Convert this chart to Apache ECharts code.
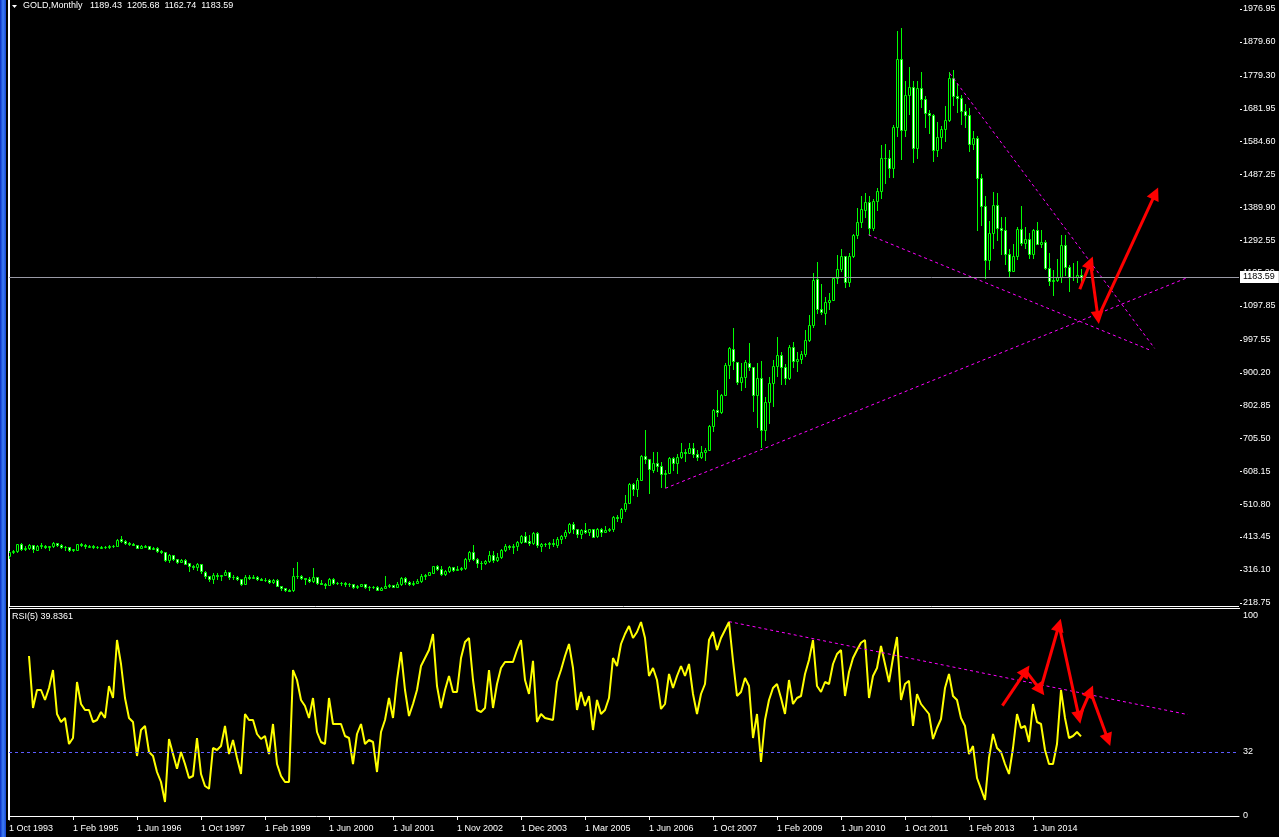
<!DOCTYPE html>
<html>
<head>
<meta charset="utf-8">
<title>GOLD,Monthly</title>
<script src="https://cdn.jsdelivr.net/npm/echarts@6.0.0/dist/echarts.min.js"></script>
<style>
  html, body { margin: 0; padding: 0; background: #000; }
  #chart { width: 1279px; height: 837px; }
</style>
</head>
<body>
<div id="chart"></div>
<script>
// monthly bars, index 0 = Oct 1993, last = Jun 2015 (broker history has a few extra bars)
var opens = [
  356, 369, 371, 392, 378, 382, 390, 376, 388, 388,
  384, 386, 395, 389, 383, 383, 375, 376, 392, 390,
  385, 387, 383, 382, 384, 383, 388, 387, 406, 401,
  396, 392, 391, 382, 385, 386, 379, 380, 371, 369,
  345, 359, 348, 340, 346, 335, 326, 325, 332, 311,
  297, 290, 301, 297, 301, 310, 294, 296, 289, 273,
  294, 292, 295, 288, 287, 287, 280, 287, 269, 261,
  256, 255, 299, 299, 291, 290, 283, 294, 277, 275,
  272, 288, 277, 277, 277, 274, 273, 264, 269, 273,
  266, 266, 265, 257, 263, 268, 271, 266, 273, 293,
  279, 275, 277, 282, 297, 301, 308, 327, 318, 305,
  313, 324, 317, 319, 322, 347, 368, 348, 335, 337,
  342, 361, 346, 355, 376, 388, 384, 386, 398, 416,
  400, 396, 424, 388, 393, 394, 396, 391, 407, 416,
  429, 452, 436, 422, 435, 428, 436, 415, 437, 429,
  433, 437, 473, 471, 496, 513, 569, 556, 582, 654,
  643, 613, 633, 624, 599, 604, 647, 632, 650, 664,
  662, 677, 659, 650, 665, 672, 743, 789, 783, 834,
  923, 971, 933, 871, 886, 930, 918, 833, 884, 730,
  814, 870, 919, 952, 916, 883, 975, 934, 939, 955,
  996, 1040, 1176, 1087, 1078, 1108, 1115, 1179, 1207, 1244,
  1169, 1246, 1307, 1347, 1383, 1405, 1327, 1409, 1439, 1535,
  1536, 1505, 1628, 1828, 1620, 1722, 1746, 1565, 1744, 1711,
  1668, 1664, 1558, 1598, 1622, 1648, 1773, 1719, 1712, 1675,
  1664, 1578, 1595, 1476, 1393, 1234, 1313, 1396, 1327, 1323,
  1250, 1202, 1244, 1326, 1284, 1296, 1250, 1322, 1282, 1287,
  1210, 1171, 1175, 1183, 1279, 1212, 1183, 1184, 1189.43
];
var highs = [
  372, 375, 392, 395, 388, 392, 391, 389, 396, 389,
  388, 398, 397, 392, 386, 383, 379, 394, 396, 392,
  391, 390, 386, 387, 386, 389, 390, 406, 416, 403,
  398, 395, 391, 390, 390, 387, 384, 383, 374, 369,
  364, 360, 349, 349, 348, 335, 330, 336, 333, 313,
  298, 306, 306, 302, 316, 311, 301, 298, 290, 300,
  301, 300, 297, 293, 292, 289, 290, 289, 269, 262,
  260, 322, 339, 302, 292, 294, 322, 296, 287, 278,
  292, 291, 281, 281, 280, 276, 275, 270, 275, 273,
  269, 268, 268, 264, 298, 274, 272, 280, 294, 294,
  283, 283, 288, 303, 304, 310, 328, 330, 327, 315,
  326, 325, 326, 324, 350, 373, 389, 352, 341, 345,
  372, 371, 366, 377, 393, 390, 392, 400, 418, 428,
  420, 428, 428, 396, 396, 398, 408, 412, 420, 433,
  456, 457, 438, 438, 456, 438, 436, 441, 440, 447,
  441, 476, 477, 498, 538, 573, 573, 587, 655, 730,
  643, 664, 664, 636, 612, 650, 649, 659, 691, 673,
  692, 691, 672, 683, 676, 745, 793, 848, 838, 928,
  975, 1033, 933, 930, 936, 989, 918, 930, 935, 828,
  887, 937, 1006, 960, 925, 981, 990, 960, 964, 1025,
  1070, 1195, 1227, 1162, 1125, 1137, 1180, 1249, 1265, 1245,
  1254, 1310, 1388, 1424, 1432, 1424, 1413, 1448, 1575, 1577,
  1560, 1632, 1912, 1920, 1764, 1804, 1763, 1764, 1791, 1720,
  1677, 1667, 1641, 1631, 1691, 1790, 1796, 1755, 1723, 1696,
  1684, 1617, 1600, 1488, 1424, 1348, 1434, 1433, 1362, 1361,
  1267, 1280, 1332, 1392, 1331, 1315, 1325, 1345, 1322, 1292,
  1255, 1205, 1238, 1307, 1307, 1220, 1224, 1232, 1205.68
];
var lows = [
  352, 365, 368, 375, 374, 378, 370, 374, 380, 380,
  376, 385, 387, 380, 374, 371, 371, 375, 387, 382,
  383, 382, 380, 381, 381, 381, 384, 387, 398, 394,
  390, 389, 380, 380, 384, 377, 377, 370, 366, 343,
  340, 346, 337, 338, 334, 314, 320, 317, 306, 292,
  284, 277, 290, 286, 300, 290, 289, 287, 272, 273,
  288, 291, 286, 285, 283, 278, 278, 268, 257, 253,
  252, 254, 293, 288, 275, 280, 280, 274, 273, 263,
  271, 275, 274, 270, 268, 269, 263, 262, 267, 262,
  256, 262, 255, 255, 262, 264, 264, 265, 270, 275,
  271, 272, 276, 281, 288, 300, 306, 315, 301, 300,
  310, 312, 315, 316, 318, 342, 345, 325, 319, 334,
  340, 340, 342, 350, 371, 378, 367, 376, 395, 398,
  390, 394, 384, 372, 388, 382, 387, 384, 397, 410,
  424, 426, 414, 410, 425, 420, 412, 414, 415, 428,
  430, 432, 460, 457, 490, 513, 538, 536, 581, 633,
  543, 605, 610, 560, 560, 602, 612, 602, 648, 637,
  661, 651, 642, 648, 642, 672, 726, 772, 781, 834,
  885, 910, 866, 850, 858, 907, 786, 740, 681, 700,
  752, 800, 891, 866, 865, 880, 916, 906, 930, 950,
  993, 1036, 1076, 1075, 1044, 1088, 1114, 1165, 1200, 1155,
  1157, 1242, 1300, 1330, 1360, 1308, 1322, 1381, 1418, 1462,
  1478, 1478, 1600, 1532, 1602, 1667, 1523, 1537, 1688, 1627,
  1611, 1526, 1541, 1564, 1587, 1645, 1694, 1672, 1635, 1626,
  1555, 1562, 1321, 1338, 1180, 1207, 1270, 1292, 1251, 1221,
  1182, 1202, 1238, 1277, 1268, 1240, 1240, 1280, 1272, 1206,
  1160, 1131, 1170, 1167, 1190, 1142, 1175, 1168, 1162.74
];
var closes = [
  369.6, 370.9, 391.8, 377.9, 381.6, 389.8, 376.5, 387.6, 388.3, 384.0,
  385.8, 394.9, 389.1, 383.1, 383.3, 374.9, 376.4, 392.0, 389.8, 385.3,
  387.1, 383.4, 382.4, 384.0, 382.7, 387.8, 387.0, 405.6, 400.7, 396.4,
  392.3, 390.6, 382.0, 385.3, 386.5, 379.0, 379.5, 371.3, 369.3, 345.5,
  358.6, 348.2, 340.2, 345.6, 334.6, 326.4, 325.4, 332.1, 311.4, 296.8,
  290.2, 301.4, 297.4, 301.0, 310.7, 293.6, 296.3, 288.9, 273.4, 293.9,
  292.3, 294.7, 287.8, 287.1, 287.3, 279.5, 286.6, 268.6, 261.0, 255.6,
  254.8, 299.0, 299.1, 291.4, 290.3, 283.3, 293.7, 276.8, 275.1, 272.3,
  288.2, 276.8, 277.5, 277.0, 273.7, 272.8, 264.5, 269.1, 272.7, 265.6,
  266.7, 265.0, 257.7, 263.2, 267.5, 270.6, 265.9, 273.0, 293.1, 278.8,
  275.5, 276.5, 282.3, 296.9, 301.4, 308.2, 326.6, 318.5, 304.7, 312.8,
  323.7, 316.9, 319.1, 322.0, 347.2, 367.5, 347.5, 334.9, 336.8, 342.0,
  361.4, 346.0, 354.8, 375.6, 388.0, 384.0, 386.3, 398.4, 416.3, 399.8,
  395.9, 423.7, 388.5, 393.3, 394.0, 395.8, 391.4, 407.3, 415.7, 429.4,
  452.5, 435.6, 422.2, 435.5, 427.5, 435.7, 414.5, 437.1, 429.0, 433.3,
  437.0, 473.3, 470.8, 495.7, 513.0, 568.8, 556.0, 582.0, 654.0, 643.0,
  613.5, 632.5, 623.5, 599.3, 603.8, 646.7, 632.0, 650.5, 664.2, 661.8,
  677.0, 659.1, 650.5, 665.5, 672.0, 743.0, 789.5, 783.5, 833.8, 923.3,
  971.5, 933.5, 871.0, 885.8, 930.3, 918.0, 833.0, 884.5, 730.8, 814.5,
  869.8, 919.5, 952.0, 916.5, 883.3, 975.5, 934.5, 939.0, 955.5, 995.8,
  1040.0, 1175.8, 1087.5, 1078.5, 1108.3, 1115.5, 1179.3, 1207.5, 1244.0, 1169.0,
  1246.0, 1307.5, 1346.8, 1383.5, 1405.5, 1327.0, 1409.0, 1439.0, 1535.5, 1536.5,
  1505.5, 1628.5, 1828.0, 1620.0, 1722.0, 1746.0, 1565.0, 1744.0, 1711.0, 1668.0,
  1664.0, 1558.0, 1598.5, 1622.0, 1648.5, 1773.0, 1719.0, 1712.0, 1675.0, 1664.0,
  1578.0, 1595.0, 1476.0, 1393.0, 1234.0, 1313.0, 1396.0, 1327.0, 1323.0, 1250.0,
  1202.0, 1244.0, 1326.0, 1284.0, 1296.0, 1250.0, 1322.0, 1282.0, 1287.0, 1210.0,
  1171.0, 1175.0, 1183.0, 1279.0, 1212.0, 1183.0, 1184.0, 1190.0, 1183.59
];
// RSI(5)
var rsi = [
  null, null, null, null, null, 80, 54, 63, 63, 58,
  64, 73, 51, 47, 49, 36, 39, 67, 56, 53,
  53, 47, 48, 52, 49, 65, 59, 88, 76, 59,
  49, 47, 30, 43, 45, 32, 30, 22, 17, 7,
  38.5, 31, 23.6, 32, 26, 19, 20, 39, 21, 15,
  13.6, 34, 33, 35, 45, 31, 38, 29, 21, 51,
  48, 48, 41, 38.5, 40, 31, 46, 26, 20, 17,
  17, 73, 68, 58, 55, 49, 59, 42, 37, 36,
  59, 46, 46, 46, 40, 39, 26, 41, 46, 36,
  38, 37, 22, 42, 48, 59, 49, 68, 82, 63,
  50, 56, 63, 75, 79, 83, 91, 65, 54, 63,
  70, 62, 62, 79, 87, 89, 68, 53, 52, 54,
  73, 54, 66, 74, 77, 77, 77, 83, 88, 68,
  61, 77.6, 47, 51, 49, 48.5, 48, 67, 73, 80,
  86, 74, 53, 62, 55, 60, 43, 58, 51, 53,
  59, 79, 75, 86, 91, 95, 89, 92, 97, 89,
  70, 74, 68, 53.5, 56, 71, 64, 70, 75, 70,
  76, 61, 51, 61, 66, 88, 92, 83, 89, 93,
  97, 77.6, 60, 62, 69, 65, 39, 51, 27, 48,
  58, 64, 66, 59, 51, 68, 56, 59, 60, 71,
  78, 88, 65, 62, 67, 66, 76, 81, 83, 60,
  72, 79, 83, 86.6, 88, 59, 70, 74, 85, 76,
  67, 79, 89.5, 58, 66, 67.6, 45, 61, 56, 53.5,
  51, 38.5, 44, 48.5, 64, 71, 60, 58, 49, 45,
  31, 35, 19, 13.6, 8, 29, 41, 34, 32, 26,
  21, 34, 51, 44, 45, 37, 56, 47, 46, 33,
  26, 26, 36, 63, 49, 39, 40, 42, 39.84
];

var tickLabels = ['1 Oct 1993', '1 Feb 1995', '1 Jun 1996', '1 Oct 1997', '1 Feb 1999',
  '1 Jun 2000', '1 Jul 2001', '1 Nov 2002', '1 Dec 2003', '1 Mar 2005', '1 Jun 2006',
  '1 Oct 2007', '1 Feb 2009', '1 Jun 2010', '1 Oct 2011', '1 Feb 2013', '1 Jun 2014'];
var priceLabels = [1976.95, 1879.60, 1779.30, 1681.95, 1584.60, 1487.25, 1389.90, 1292.55,
  1195.20, 1097.85, 997.55, 900.20, 802.85, 705.50, 608.15, 510.80, 413.45, 316.10, 218.75];
var rsiLabels = [0, 32, 100];
var lastPrice = 1183.59;
var rsiLevel = 32;

// hand drawn objects: [bar, price] end points
var priceTrends = [
  [[235.2, 1786], [286.4, 972]],
  [[214.9, 1308], [285.2, 967]],
  [[164.1, 557.5], [294.75, 1182]]
];
var priceArrows = [
  [[267.7, 1147], [270.35, 1226]],
  [[270.35, 1226], [272.25, 1063]],
  [[272.25, 1063], [286.6, 1431]]
];
var rsiTrend = [[180, 97.2], [294.7, 50.7]];
var rsiArrows = [
  [[248.35, 55.2], [254.2, 72.6]],
  [[254.2, 72.6], [257.85, 63]],
  [[257.85, 63], [262.5, 95.5]],
  [[262.5, 95.5], [267.5, 49.3]],
  [[267.5, 49.3], [270.35, 62.3]],
  [[270.35, 62.3], [274.75, 38.1]]
];

var FONT = 'Liberation Sans';
var GREEN = '#00ff00';
var DOTS = [3, 3];

var candleData = closes.map(function (c, i) {
  return [i, opens[i], highs[i], lows[i], c];
});
var rsiData = rsi.map(function (v, i) { return [i, v]; });

function renderCandle(params, api) {
  var i = api.value(0);
  var o = api.value(1), h = api.value(2), l = api.value(3), c = api.value(4);
  var pO = api.coord([i, o]);
  var pC = api.coord([i, c]);
  var pH = api.coord([i, h]);
  var pL = api.coord([i, l]);
  var x = Math.floor(pO[0]);
  var top = Math.round(Math.min(pO[1], pC[1]));
  var bot = Math.round(Math.max(pO[1], pC[1]));
  return {
    type: 'group',
    children: [
      {
        type: 'line',
        shape: { x1: x + 0.5, y1: Math.round(pH[1]), x2: x + 0.5, y2: Math.round(pL[1]) + 1 },
        style: { stroke: GREEN, lineWidth: 1 }
      },
      {
        type: 'rect',
        shape: { x: x - 0.5, y: top + 0.5, width: 2, height: bot - top },
        style: { fill: c >= o ? '#000' : '#fff', stroke: GREEN, lineWidth: 1 }
      }
    ]
  };
}

var chart = echarts.init(document.getElementById('chart'));

var series = [
  {
    type: 'custom',
    xAxisIndex: 0, yAxisIndex: 0,
    renderItem: renderCandle,
    data: candleData,
    clip: true,
    silent: true,
    z: 3
  }
];

priceTrends.forEach(function (seg) {
  series.push({
    type: 'line', xAxisIndex: 0, yAxisIndex: 0,
    data: seg, symbol: 'none', silent: true,
    lineStyle: { color: '#ff00ff', width: 1, type: DOTS },
    z: 4
  });
});

// current price line, its box sits on the scale above the axis labels
series.push({
  type: 'line', xAxisIndex: 0, yAxisIndex: 0,
  data: [], silent: true, zlevel: 1,
  markLine: {
    silent: true, symbol: 'none',
    data: [{ yAxis: lastPrice }],
    lineStyle: { color: '#9a9aa6', width: 1, type: 'solid' },
    label: {
      position: 'end', formatter: lastPrice.toFixed(2),
      backgroundColor: '#fff', color: '#000',
      fontFamily: FONT, fontSize: 9, padding: [2, 4, 1, 3], distance: 1
    }
  }
});

series.push({
  type: 'lines', coordinateSystem: 'cartesian2d', xAxisIndex: 0, yAxisIndex: 0,
  data: priceArrows.map(function (seg) { return { coords: seg }; }),
  symbol: ['none', 'triangle'], symbolSize: 13, silent: true,
  lineStyle: { color: '#ff0000', width: 3, opacity: 1, curveness: 0 },
  z: 6
});

series.push({
  type: 'line', xAxisIndex: 1, yAxisIndex: 1,
  data: rsiData, symbol: 'none', silent: true, connectNulls: false,
  lineStyle: { color: '#ffff00', width: 2 },
  markLine: {
    silent: true, symbol: 'none',
    data: [{ yAxis: rsiLevel }],
    lineStyle: { color: '#5c5cff', width: 1, type: [3, 3] },
    label: { show: false }
  },
  z: 3
});

series.push({
  type: 'line', xAxisIndex: 1, yAxisIndex: 1,
  data: rsiTrend, symbol: 'none', silent: true,
  lineStyle: { color: '#ff00ff', width: 1, type: DOTS },
  z: 4
});

series.push({
  type: 'lines', coordinateSystem: 'cartesian2d', xAxisIndex: 1, yAxisIndex: 1,
  data: rsiArrows.map(function (seg) { return { coords: seg }; }),
  symbol: ['none', 'triangle'], symbolSize: 13, silent: true,
  lineStyle: { color: '#ff0000', width: 3, opacity: 1, curveness: 0 },
  z: 6
});

var frame = [
  {
    // window frame strip on the left
    type: 'rect', left: 0, top: 0, silent: true,
    shape: { width: 6, height: 837 },
    style: {
      fill: new echarts.graphic.LinearGradient(0, 0, 1, 0, [
        { offset: 0, color: '#0a2fc2' },
        { offset: 0.5, color: '#3f7ff6' },
        { offset: 1, color: '#1747d4' }
      ])
    }
  },
  { type: 'line', silent: true, shape: { x1: 8.5, y1: 0, x2: 8.5, y2: 820 }, style: { stroke: '#fff', lineWidth: 1 } },
  { type: 'line', silent: true, shape: { x1: 8, y1: 606.5, x2: 1239, y2: 606.5 }, style: { stroke: '#fff', lineWidth: 1 } },
  { type: 'line', silent: true, shape: { x1: 8, y1: 608.5, x2: 1240, y2: 608.5 }, style: { stroke: '#fff', lineWidth: 1 } },
  { type: 'polygon', silent: true, shape: { points: [[12, 5], [17, 5], [14.5, 8]] }, style: { fill: '#fff' } },
  {
    type: 'text', left: 23, top: 1, silent: true,
    style: { text: 'GOLD,Monthly   1189.43  1205.68  1162.74  1183.59', fill: '#fff', font: '9px "' + FONT + '"' }
  },
  {
    type: 'text', left: 12, top: 612, silent: true,
    style: { text: 'RSI(5) 39.8361', fill: '#fff', font: '9px "' + FONT + '"' }
  }
];

var option = {
  backgroundColor: '#000',
  animation: false,
  grid: [
    { left: 9, top: 0, width: 1230, height: 606 },
    { left: 9, top: 609, width: 1230, height: 211 }
  ],
  xAxis: [
    { gridIndex: 0, type: 'value', min: 0, max: 307.5, show: false },
    {
      gridIndex: 1, type: 'value', min: 0, max: 307.5,
      axisLine: { lineStyle: { color: '#fff', width: 1 } },
      axisTick: {
        length: 4, lineStyle: { color: '#fff' },
        customValues: tickLabels.map(function (t, k) { return k * 16; })
      },
      axisLabel: {
        customValues: tickLabels.map(function (t, k) { return k * 16; }),
        formatter: function (v) { return tickLabels[Math.round(v / 16)] || ''; },
        color: '#fff', fontFamily: FONT, fontSize: 9, align: 'left', margin: 4
      },
      splitLine: { show: false }
    }
  ],
  yAxis: [
    {
      gridIndex: 0, type: 'value', position: 'right', min: 208.97, max: 2003.5,
      axisLine: { show: true, lineStyle: { color: '#fff', width: 1 } },
      axisTick: { show: false },
      axisLabel: {
        customValues: priceLabels,
        formatter: function (v) { return v.toFixed(2); },
        color: '#fff', fontFamily: FONT, fontSize: 9, margin: 4
      },
      splitLine: { show: false }
    },
    {
      gridIndex: 1, type: 'value', position: 'right', min: -2, max: 103.5,
      axisLine: { show: true, lineStyle: { color: '#fff', width: 1 } },
      axisTick: { show: false },
      axisLabel: {
        customValues: rsiLabels,
        color: '#fff', fontFamily: FONT, fontSize: 9, margin: 4
      },
      splitLine: { show: false }
    }
  ],
  graphic: frame,
  series: series
};

chart.setOption(option);

// small scale ticks, placed through the price axis
var ticks = priceLabels.map(function (v) {
  var y = Math.round(chart.convertToPixel({ yAxisIndex: 0 }, v)) + 0.5;
  return { type: 'line', silent: true, shape: { x1: 1240, y1: y, x2: 1242, y2: y }, style: { stroke: '#fff', lineWidth: 1 } };
});
chart.setOption({ graphic: frame.concat(ticks) });
</script>
</body>
</html>
